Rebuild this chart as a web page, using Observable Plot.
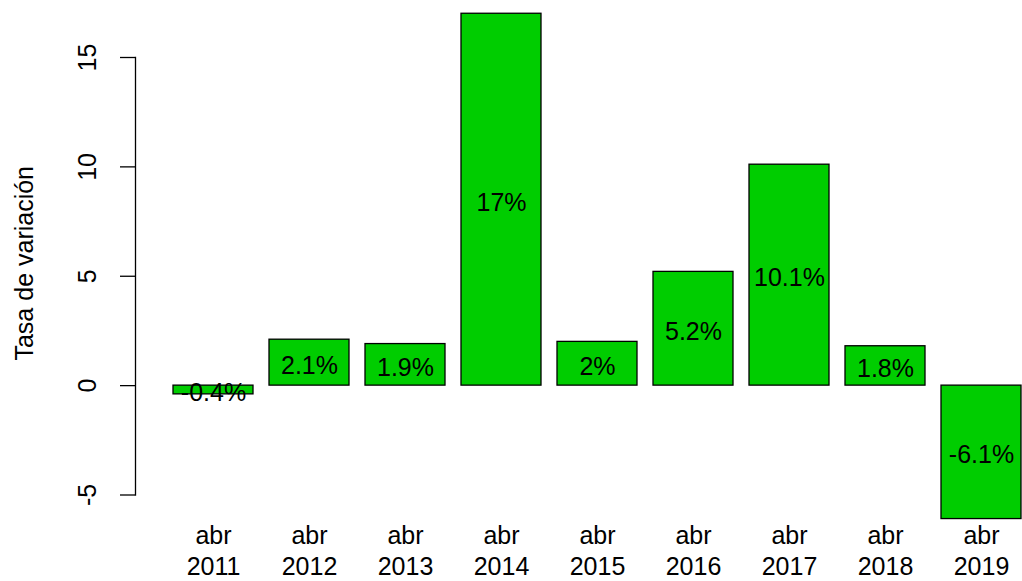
<!DOCTYPE html>
<html><head><meta charset="utf-8">
<script src="https://cdn.jsdelivr.net/npm/d3@7"></script>
<script src="https://cdn.jsdelivr.net/npm/@observablehq/plot@0.6"></script>
<style>
html,body{margin:0;padding:0;background:#fff;overflow:hidden}
svg{overflow:visible;display:block}
</style>
</head><body><div id="chart"></div>
<script>
const months = ["abr","abr","abr","abr","abr","abr","abr","abr","abr"];
const years = ["2011","2012","2013","2014","2015","2016","2017","2018","2019"];
const values = [-0.4, 2.1, 1.9, 17, 2, 5.2, 10.1, 1.8, -6.1];
const valueLabels = ["-0.4%","2.1%","1.9%","17%","2%","5.2%","10.1%","1.8%","-6.1%"];
const yTicks = [-5, 0, 5, 10, 15];
const yTitle = "Tasa de variación";

const data = years.map((y, i) => ({
  cat: months[i] + "\n" + y,
  value: values[i],
  label: valueLabels[i]
}));

const fs = 25;
const chart = Plot.plot({
  width: 1022,
  height: 581,
  marginLeft: 135,
  marginRight: 0,
  marginTop: 57,
  marginBottom: 86.5,
  style: {fontFamily: "'Liberation Sans', Arial, sans-serif", fontSize: fs + "px", background: "white", color: "black"},
  x: {type: "band", domain: data.map(d => d.cat), range: [170, 1023], paddingInner: 1/6, paddingOuter: 0, axis: null},
  y: {domain: [-5, 15], axis: null},
  marks: [
    Plot.frame({anchor: "left", stroke: "black", strokeWidth: 1.3}),
    Plot.axisY({ticks: yTicks, tickSize: 15, tickPadding: 25, tickRotate: -90, tickFormat: d => String(d), fontSize: fs, label: null, stroke: "black", strokeWidth: 1.3}),
    Plot.barY(data, {x: "cat", y1: 0, y2: "value", fill: "#00cd00", stroke: "black", strokeWidth: 1.3}),
    Plot.text(data, {x: "cat", y: d => d.value / 2, text: "label", dy: 3, fontSize: fs, fill: "black"}),
    Plot.text(data, {x: "cat", text: "cat", frameAnchor: "bottom", lineAnchor: "top", lineHeight: 1.24, dy: 27, fontSize: fs, fill: "black"}),
    Plot.text([yTitle], {text: d => d, frameAnchor: "left", textAnchor: "middle", rotate: -90, dx: -111, dy: -13, fontSize: fs, fill: "black"})
  ]
});
document.getElementById("chart").appendChild(chart);
</script>
</body></html>
